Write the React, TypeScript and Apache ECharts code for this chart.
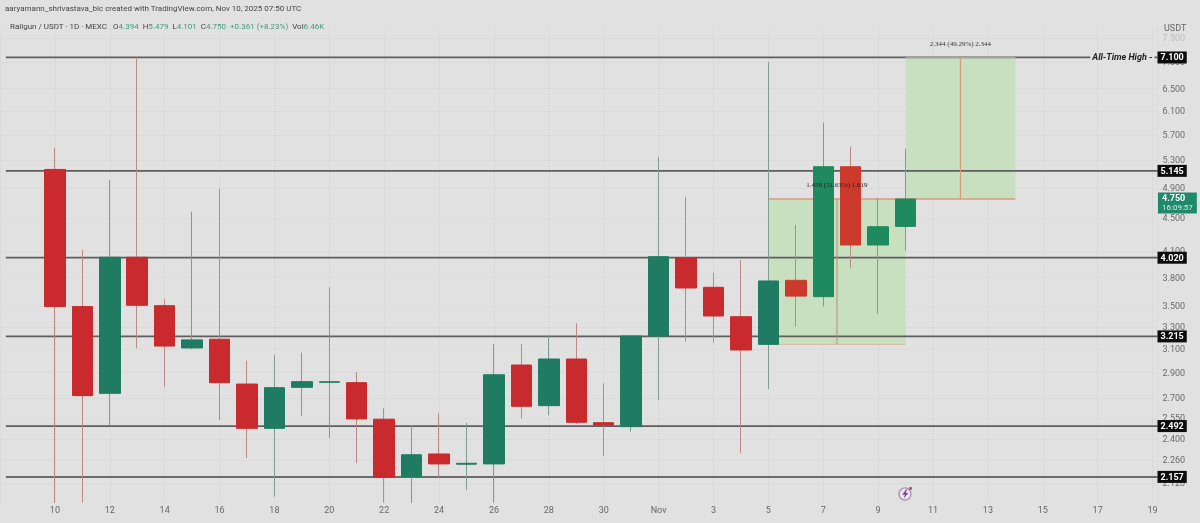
import React, { useEffect, useRef } from "react";
import * as echarts from "echarts";

// Day number: 10 = Oct 10, 31 = Oct 31, 32 = Nov 1, 41 = Nov 10
const days = [10,11,12,13,14,15,16,17,18,19,20,21,22,23,24,25,26,27,28,29,30,31,32,33,34,35,36,37,38,39,40,41];
const opens = [5.166,3.499,2.735,4.025,3.508,3.111,3.189,2.808,2.476,2.782,2.822,2.819,2.541,2.158,2.302,2.236,2.238,2.964,2.641,3.015,2.516,2.488,3.219,4.017,3.696,3.400,3.143,3.770,3.599,5.206,4.168,4.394];
const closes = [3.499,2.717,4.025,3.512,3.128,3.183,2.819,2.476,2.779,2.827,2.826,2.543,2.154,2.297,2.238,2.242,2.883,2.636,3.015,2.519,2.498,3.219,4.032,3.689,3.407,3.093,3.763,3.605,5.206,4.168,4.390,4.750];
const lows = [2.003,2.005,2.500,3.108,2.787,3.100,2.536,2.276,2.039,2.566,2.409,2.244,2.005,2.003,2.154,2.078,2.005,2.548,2.570,2.507,2.289,2.453,2.683,3.167,3.158,2.309,2.769,3.305,3.499,3.901,3.426,4.101];
const highs = [5.491,4.110,5.013,7.100,3.576,4.582,4.887,3.000,3.050,3.070,3.696,2.906,2.621,2.500,2.584,2.516,3.147,3.147,3.219,3.337,2.814,3.228,5.352,4.777,3.853,3.994,7.010,4.411,5.899,5.511,4.763,5.479];

const levels = [5.145, 4.02, 3.215, 2.492, 2.157];
const levelLabels = ["5.145", "4.020", "3.215", "2.492", "2.157"];
const athLevel = 7.1;
const athLabel = "7.100";

const priceTicks = [7.5,7.0,6.5,6.1,5.7,5.3,4.9,4.5,4.1,3.8,3.5,3.3,3.1,2.9,2.7,2.55,2.4,2.26,2.12];
const dayTickValues = [10,12,14,16,18,20,22,24,26,28,30,32,34,36,38,40,42,44,46,48,50];
const dayTickLabels = ["10","12","14","16","18","20","22","24","26","28","30","Nov","3","5","7","9","11","13","15","17","19"];

const X_START = 8.215;
const X_END = 50.18;
const X_ATH_LABEL = 48.9;
const LONG_ENTRY = 4.75;
const LONG_STOP_BOTTOM = 3.143;
const LONG_FROM = 36;
const LONG_TO = 41;
const TARGET_TO = 45;
const LONG_MID = 38.5;
const TARGET_MID = 43;
const ZONE_CANDLES_FROM = 37;

const BG = "#e1e1e1";
const GREEN_ZONE = "#c8dfc0";
const MEASURE_RED = "#d99a7c";
const CLEAR = "rgba(0,0,0,0)";

function seg(a: number[], b: number[], color: string, width: number, z: number, extra: any = {}) {
  return {
    type: "line", data: [a, b], symbol: "none", silent: true, z,
    lineStyle: { color, width }, ...extra,
  };
}

function labelPoint(value: number[], label: any) {
  return { value, symbol: "circle", symbolSize: 1, itemStyle: { color: CLEAR }, label: { show: true, ...label } };
}

const labelCarrier = {
  type: "line", symbol: "none", showSymbol: true, showAllSymbol: true,
  silent: true, clip: false, lineStyle: { color: CLEAR, width: 0 },
};

export default function App() {
  const ref = useRef<HTMLDivElement>(null);
  useEffect(() => {
    document.body.style.margin = "0";
    document.body.style.background = BG;
    if (!(echarts.graphic as any).__boltDone) {
      echarts.graphic.registerShape(
        "bolt",
        (echarts.graphic as any).extendPath("M6 0 L1 7 L4.5 7 L3 12 L9 4.5 L5.5 4.5 L7.5 0 Z", {})
      );
      (echarts.graphic as any).__boltDone = true;
    }
    const chart = echarts.init(ref.current!, undefined, { renderer: "svg" });

    const blackTag = {
      show: true, position: "right", distance: 0, color: "#fff", backgroundColor: "#0c0c0c",
      fontFamily: "Roboto", fontWeight: "bold", fontSize: 9, padding: [2, 3, 1, 3],
    };

    const levelSeries = levels.map((v, i) => ({
      ...seg([X_START, v], [X_END, v], i === 4 ? "#454545" : "#5e5e5e", i === 4 ? 1.5 : 1.7, 1),
      endLabel: { ...blackTag, formatter: levelLabels[i] },
    }));

    const bodyColor = (d: number, rising: boolean) => {
      if (d >= ZONE_CANDLES_FROM) return rising ? "#1f8a5e" : "#cc3a2c";
      return rising ? "#1f7b62" : "#c92a2d";
    };
    const bodyStyle = (d: number, rising: boolean) => {
      const c = bodyColor(d, rising);
      return { color: c, color0: c, borderColor: c, borderColor0: c, borderWidth: 1 };
    };

    const option: any = {
      animation: false,
      backgroundColor: BG,
      grid: { left: -0.9, width: 1158.4, top: 28, height: 475.5, containLabel: false },
      xAxis: {
        type: "value", min: 8, max: X_END, interval: 2,
        axisLine: { show: false }, axisTick: { show: false },
        splitLine: { show: true, lineStyle: { color: "#dadada", width: 1 } },
        axisLabel: {
          margin: 2, fontSize: 9, fontFamily: "Roboto", color: "#666",
          showMinLabel: false, showMaxLabel: false,
          formatter: (v: number) => {
            const i = dayTickValues.indexOf(v);
            return i < 0 ? "" : dayTickLabels[i];
          },
        },
      },
      yAxis: {
        type: "log", logBase: 10, min: 2, max: 7.72, position: "right",
        axisLine: { show: false }, axisTick: { show: false, customValues: priceTicks },
        splitLine: { show: true, lineStyle: { color: "#dadada", width: 1 } },
        axisLabel: {
          customValues: priceTicks, margin: 5, fontSize: 9, fontFamily: "Roboto",
          color: (v: any) => (Number(v) >= 7.5 ? "#bdbdbd" : "#6a6a6a"),
          formatter: (v: number) => v.toFixed(3),
        },
      },
      series: [
        {
          // wicks
          type: "candlestick", z: 3, barWidth: 1, silent: true,
          encode: { x: 0, y: [1, 2, 3, 4] },
          data: days.map((d, i) => [d, opens[i], closes[i], lows[i], highs[i]]),
          itemStyle: { color: "#7f9c92", color0: "#b98a84", borderColor: "#7f9c92", borderColor0: "#b98a84", borderWidth: 1 },
          markArea: {
            silent: true, z: 0,
            itemStyle: { color: GREEN_ZONE },
            data: [
              [{ coord: [LONG_FROM, LONG_ENTRY] }, { coord: [LONG_TO, LONG_STOP_BOTTOM] }],
              [{ coord: [LONG_TO, athLevel] }, { coord: [TARGET_TO, LONG_ENTRY] }],
            ],
          },
        },
        {
          // bodies
          type: "candlestick", z: 4, barWidth: 21, silent: true,
          encode: { x: 0, y: [1, 2, 3, 4] },
          data: days.map((d, i) => ({
            value: [d, opens[i], closes[i], Math.min(opens[i], closes[i]), Math.max(opens[i], closes[i])],
            itemStyle: bodyStyle(d, closes[i] > opens[i]),
          })),
        },
        ...levelSeries,
        {
          type: "line", symbol: "none", showSymbol: true, showAllSymbol: true, silent: true,
          z: 1, lineStyle: { color: "#5e5e5e", width: 1.7 },
          data: [
            [X_START, athLevel],
            labelPoint([X_ATH_LABEL, athLevel], {
              position: "inside", formatter: "All-Time High -",
              fontFamily: "Roboto", fontStyle: "italic", fontWeight: "bold", fontSize: 9, color: "#222",
              backgroundColor: BG, padding: [1, 2, 1, 2],
            }),
            [X_END, athLevel],
          ],
          endLabel: { ...blackTag, formatter: athLabel },
        },
        seg([LONG_FROM, LONG_ENTRY], [TARGET_TO, LONG_ENTRY], MEASURE_RED, 1.3, 2),
        seg([LONG_FROM, LONG_STOP_BOTTOM], [LONG_TO, LONG_STOP_BOTTOM], "#d9b9a0", 1, 2),
        seg([LONG_TO, athLevel], [TARGET_TO, athLevel], MEASURE_RED, 1, 2),
        seg([LONG_MID, LONG_ENTRY], [LONG_MID, LONG_STOP_BOTTOM], "#b5917c", 1, 2),
        seg([TARGET_MID, LONG_ENTRY], [TARGET_MID, athLevel], MEASURE_RED, 1.2, 2),
        {
          ...labelCarrier, z: 6,
          data: [
            labelPoint([LONG_MID, 4.945], { position: "inside", formatter: "1.458 (51.63%) 1.619", fontFamily: "Liberation Serif", fontSize: 7, color: "#222" }),
            labelPoint([TARGET_MID, 7.38], { position: "inside", formatter: "2.344 (49.29%) 2.344", fontFamily: "Liberation Serif", fontSize: 7, color: "#333" }),
          ],
        },
        {
          ...labelCarrier, z: 7,
          data: [
            labelPoint([X_END, LONG_ENTRY], {
              position: "right", distance: 0, offset: [0, 4],
              formatter: "{a|4.750}\n{b|16:09:57}",
              backgroundColor: "#1f8a6b", padding: [1, 4, 1, 4], align: "left",
              rich: {
                a: { color: "#fff", fontFamily: "Roboto", fontWeight: "bold", fontSize: 9, lineHeight: 10 },
                b: { color: "#d7efe6", fontFamily: "Roboto", fontSize: 8, lineHeight: 9 },
              },
            }),
          ],
        },
      ],
      graphic: [
        {
          type: "text", x: 5, y: 4,
          style: {
            text: "aaryamann_shrivastava_bic created with TradingView.com, Nov 10, 2025 07:50 UTC",
            fontFamily: "Roboto", fontSize: 8, fill: "#444",
          },
        },
        {
          type: "text", x: 10, y: 22,
          style: {
            text: "Railgun / USDT · 1D · MEXC   {d|O}{g|4.394}  {d|H}{g|5.479}  {d|L}{g|4.101}  {d|C}{g|4.750}  {g|+0.361 (+8.23%)}  {d|Vol}{g|6.46K}",
            fontFamily: "Roboto", fontSize: 8, fill: "#444",
            rich: {
              d: { fill: "#444", fontFamily: "Roboto", fontSize: 8 },
              g: { fill: "#3f9a7d", fontFamily: "Roboto", fontSize: 8 },
            },
          },
        },
        {
          type: "text", x: 1164, y: 23,
          style: { text: "USDT", fontFamily: "Roboto", fontSize: 9, fill: "#666" },
        },
        {
          type: "circle", shape: { cx: 905, cy: 494, r: 6 }, z: 10,
          style: { fill: "#e8e4ea", stroke: "#a88fb5", lineWidth: 1.2 },
        },
        {
          type: "bolt", x: 901.5, y: 489.5, scaleX: 0.75, scaleY: 0.75, z: 11,
          style: { fill: "#7a3f9a" },
        },
        {
          type: "circle", shape: { cx: 910.5, cy: 488.5, r: 1.6 }, z: 12,
          style: { fill: "#cf4a5a" },
        },
      ],
    };
    chart.setOption(option);
    return () => chart.dispose();
  }, []);
  return (
    <div
      ref={ref}
      style={{ position: "fixed", left: 0, top: 0, width: 1200, height: 523, filter: "blur(0.5px)" }}
    />
  );
}
